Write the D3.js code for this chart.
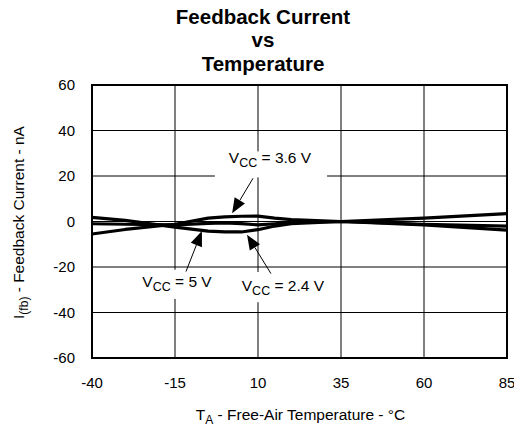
<!DOCTYPE html>
<html>
<head>
<meta charset="utf-8">
<script src="https://cdn.jsdelivr.net/npm/d3@7"></script>
<style>
  body { margin: 0; background: #fff; }
  text { font-family: "Liberation Sans", Arial, sans-serif; fill: #000; }
</style>
</head>
<body>
<svg id="chart" width="514" height="427"></svg>
<script>
// temperature points (deg C) and feedback current (nA)
var temps = [-40, -30, -15, -5, 0, 5, 10, 15, 20, 35, 60, 85];
var vcc36 = [-5.5, -3.5, -1.2, 1.5, 2, 2.3, 2.4, 1.5, 0.8, 0, 1.5, 3.5];
var vcc5 = [1.8, 0.5, -2.5, -4.2, -4.6, -4.6, -3.6, -2, -1, 0, -1.2, -2];
var vcc24 = [-1, -1.2, -1.5, -0.8, -0.6, -0.9, -1.5, -1, -0.4, 0, -1.5, -3.8];

var xTicks = [-40, -15, 10, 35, 60, 85];
var yTicks = [-60, -40, -20, 0, 20, 40, 60];

// callouts: label centre, white box, leader start and arrow tip (data units)
var callouts = [
  { name: "3.6 V", tx: 13.6, ty: 25.6, box: [-3, 30.8, 30.8, 19.4], from: [8.5, 19], to: [2.2, 3.6] },
  { name: "5 V", tx: -14.4, ty: -29, box: [-26, -2.7, -21.2, -34], from: [-11.7, -22], to: [-6.9, -4.2] },
  { name: "2.4 V", tx: 17.5, ty: -30.6, box: [4, 31.7, -22.2, -35.5], from: [13.9, -22.9], to: [6.7, -5.8] }
];

var svg = d3.select("#chart");
var margin = { left: 92, right: 7, top: 85, bottom: 69 };
var W = 514, H = 427;

var x = d3.scaleLinear().domain([-40, 85]).range([margin.left, W - margin.right]);
var y = d3.scaleLinear().domain([-60, 60]).range([H - margin.bottom, margin.top]);

// title
var title = svg.append("text")
  .attr("text-anchor", "middle")
  .attr("font-weight", "bold")
  .attr("font-size", "20.5px");
title.append("tspan").attr("x", 263).attr("y", 24).text("Feedback Current");
title.append("tspan").attr("x", 263).attr("y", 47).text("vs");
title.append("tspan").attr("x", 263).attr("y", 71).text("Temperature");

// grid
var grid = svg.append("g");
grid.selectAll(".vx")
  .data(xTicks.slice(1, -1))
  .enter().append("line")
  .attr("x1", d => x(d)).attr("x2", d => x(d))
  .attr("y1", y(60)).attr("y2", y(-60))
  .attr("stroke", "#000").attr("stroke-width", 1);
grid.selectAll(".hy")
  .data(yTicks.slice(1, -1))
  .enter().append("line")
  .attr("x1", x(-40)).attr("x2", x(85))
  .attr("y1", d => y(d)).attr("y2", d => y(d))
  .attr("stroke", "#000").attr("stroke-width", 1);

// tick labels
svg.append("g").selectAll("text")
  .data(xTicks)
  .enter().append("text")
  .attr("x", d => x(d))
  .attr("y", y(-60) + 30)
  .attr("text-anchor", "middle")
  .attr("font-size", "15px")
  .text(d => d);
svg.append("g").selectAll("text")
  .data(yTicks)
  .enter().append("text")
  .attr("x", x(-40) - 17)
  .attr("y", d => y(d))
  .attr("dy", "0.35em")
  .attr("text-anchor", "end")
  .attr("font-size", "15px")
  .text(d => d);

// curves
var line = d3.line()
  .x((d, i) => x(temps[i]))
  .y(d => y(d));
[vcc36, vcc5, vcc24].forEach(function (s) {
  svg.append("path")
    .datum(s)
    .attr("d", line)
    .attr("fill", "none")
    .attr("stroke", "#000")
    .attr("stroke-width", 3.2)
    .attr("stroke-linejoin", "round");
});

// callouts
callouts.forEach(function (c) {
  svg.append("rect")
    .attr("x", x(c.box[0]))
    .attr("y", y(c.box[2]))
    .attr("width", x(c.box[1]) - x(c.box[0]))
    .attr("height", y(c.box[3]) - y(c.box[2]))
    .attr("fill", "#fff");

  var t = svg.append("text")
    .attr("x", x(c.tx))
    .attr("y", y(c.ty))
    .attr("text-anchor", "middle")
    .attr("font-size", "15.5px");
  t.append("tspan").text("V");
  t.append("tspan").attr("font-size", "12.5px").attr("dy", "4").text("CC");
  t.append("tspan").attr("dy", "-4").text(" = " + c.name);

  var x0 = x(c.from[0]), y0 = y(c.from[1]), x1 = x(c.to[0]), y1 = y(c.to[1]);
  var ang = Math.atan2(y1 - y0, x1 - x0);
  var len = 15, half = 6;
  var bx = x1 - len * Math.cos(ang), by = y1 - len * Math.sin(ang);
  svg.append("line")
    .attr("x1", x0).attr("y1", y0).attr("x2", bx).attr("y2", by)
    .attr("stroke", "#000").attr("stroke-width", 1);
  svg.append("path")
    .attr("d", "M" + x1 + "," + y1 +
      "L" + (bx + half * Math.sin(ang)) + "," + (by - half * Math.cos(ang)) +
      "L" + (bx - half * Math.sin(ang)) + "," + (by + half * Math.cos(ang)) + "Z")
    .attr("fill", "#000");
});

// frame
svg.append("rect")
  .attr("x", x(-40)).attr("y", y(60))
  .attr("width", x(85) - x(-40)).attr("height", y(-60) - y(60))
  .attr("fill", "none").attr("stroke", "#000").attr("stroke-width", 2);

// axis titles
var xl = svg.append("text")
  .attr("x", (x(-40) + x(85)) / 2 + 1)
  .attr("y", 420)
  .attr("text-anchor", "middle")
  .attr("font-size", "15.5px");
xl.append("tspan").text("T");
xl.append("tspan").attr("font-size", "12px").attr("dy", "4").text("A");
xl.append("tspan").attr("dy", "-4").text(" - Free-Air Temperature - °C");

var yl = svg.append("text")
  .attr("transform", "translate(24," + (y(0) + 1) + ") rotate(-90)")
  .attr("text-anchor", "middle")
  .attr("font-size", "15.5px");
yl.append("tspan").text("I");
yl.append("tspan").attr("font-size", "12px").attr("dy", "4").text("(fb)");
yl.append("tspan").attr("dy", "-4").text(" - Feedback Current - nA");
</script>
</body>
</html>
